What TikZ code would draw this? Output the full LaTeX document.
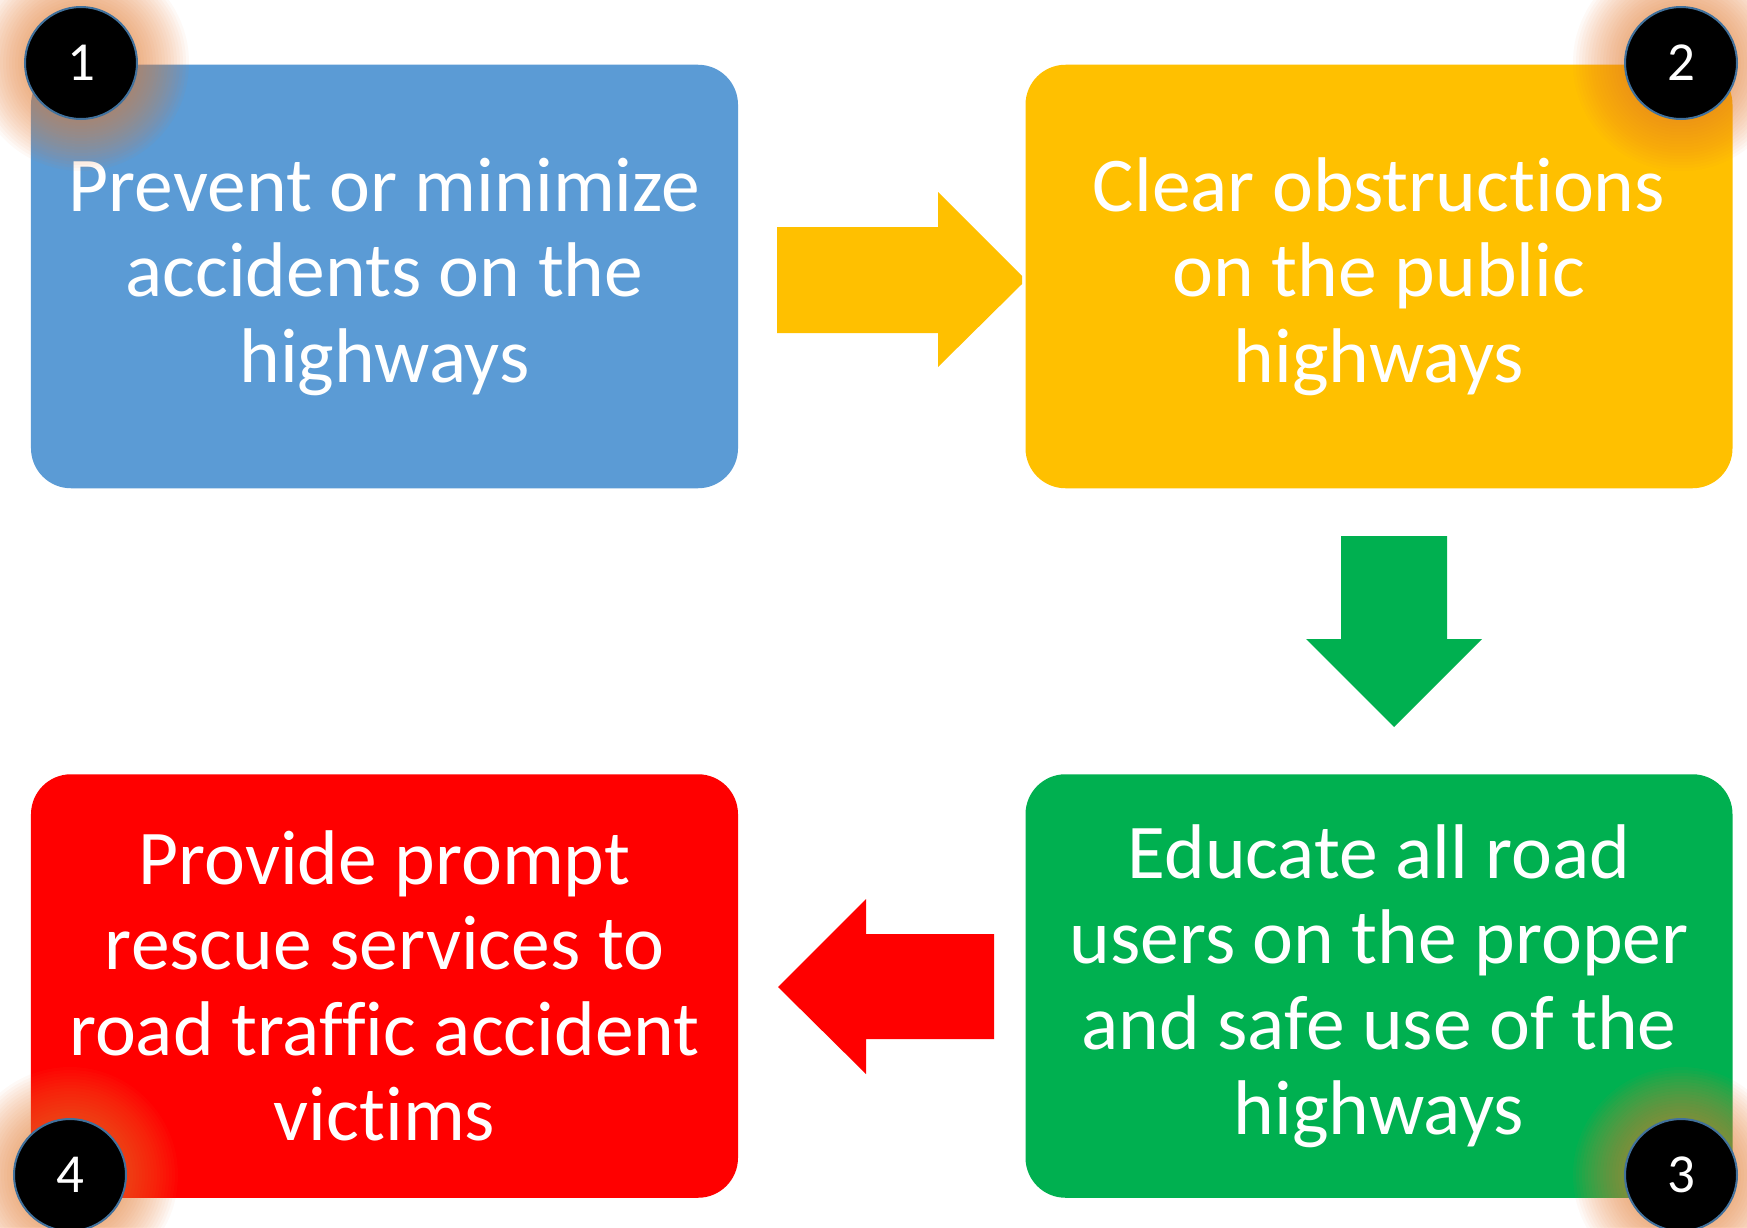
\documentclass[tikz,border=0pt]{standalone}
\usepackage{fontspec}
\setmainfont{Carlito}[Ligatures=NoCommon]
\definecolor{cblue}{HTML}{5B9BD5}
\definecolor{cyellow}{HTML}{FFC000}
\definecolor{cgreen}{HTML}{00B050}
\definecolor{cred}{HTML}{FF0000}
\definecolor{glowc}{HTML}{ED7D31}
\definecolor{ringc}{HTML}{41719C}
\begin{document}
\begin{tikzpicture}[x=0.4pt,y=-0.4pt,
  box/.style={rounded corners=16pt, minimum width=282.8pt, minimum height=169.4pt,
    inner sep=0pt, align=center, text=white,
    font=\fontsize{31}{34.2}\selectfont},
  numc/.style={circle, fill=black, draw=ringc, line width=0.8pt, minimum size=44.8pt,
    inner sep=0pt, text=white, font=\fontsize{22}{24}\selectfont}
]
\useasboundingbox (0,0) rectangle (1747,1227);
\clip (0,0) rectangle (1747,1227);
\fill[white] (0,0) rectangle (1747,1227);

\node[box, fill=cblue] (b1) at (384.5,276.5) {Prevent or minimize\\accidents on the\\highways};
\node[box, fill=cyellow] (b2) at (1379,276.5) {Clear obstructions\\on the public\\highways};
\node[box, fill=cgreen] (b3) at (1379,986) {Educate all road\\users on the proper\\and safe use of the\\highways};
\node[box, fill=cred] (b4) at (384.5,986) {Provide prompt\\rescue services to\\road traffic accident\\victims};

% block arrows
\fill[cyellow] (777,227) -- (938,227) -- (938,192) -- (1022,276) -- (1022,284) -- (938,367) -- (938,333) -- (777,333) -- cycle;
\fill[cgreen] (1341,536) -- (1447,536) -- (1447,639) -- (1482,639) -- (1394,727) -- (1306,639) -- (1341,639) -- cycle;
\fill[cred] (994,934) -- (866,934) -- (866,899) -- (778,987) -- (866,1074) -- (866,1039) -- (994,1039) -- cycle;

% glows
\foreach \cx/\cy in {81/63, 1681/63, 1681/1175, 70/1175}{
  \foreach \r in {57,60,...,108}{
    \fill[glowc, opacity=0.042] (\cx,\cy) circle (\r);
  }
}

\node[numc] (n1) at (81,63) {1};
\node[numc] (n2) at (1681,63) {2};
\node[numc] (n3) at (1681,1175) {3};
\node[numc] (n4) at (70,1175) {4};
\end{tikzpicture}
\end{document}
